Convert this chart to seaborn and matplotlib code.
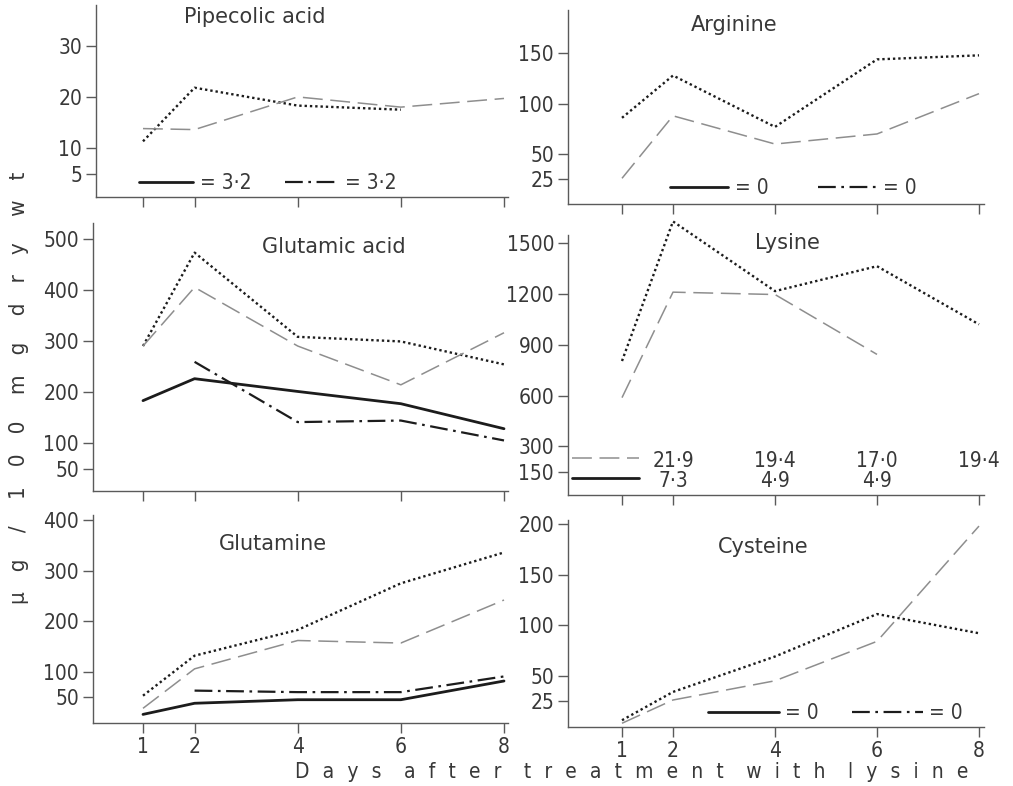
import numpy as np
import pandas as pd
import matplotlib
matplotlib.use('Agg')
import matplotlib.pyplot as plt
import matplotlib.transforms as mtransforms
from matplotlib.lines import Line2D
import seaborn as sns

nan = np.nan
days = [1, 2, 4, 6, 8]

# values (ug / 100 mg dry wt)
pipecolic_dotted = [11.3, 21.8, 18.3, 17.5, nan]
pipecolic_dashed = [13.8, 13.6, 20.0, 18.0, 19.7]

arginine_dotted = [86, 128, 77, 144, 148]
arginine_dashed = [26, 88, 60, 70, 110]

glutamic_dotted = [290, 473, 308, 299, 254]
glutamic_dashed = [290, 405, 290, 214, 316]
glutamic_solid = [183, 226, 201, 177, 128]
glutamic_dashdot = [nan, 259, 141, 144, 105]

lysine_dotted = [804, 1627, 1216, 1363, 1020]
lysine_dashed = [588, 1210, 1196, 843, nan]

glutamine_dotted = [53, 132, 183, 275, 336]
glutamine_dashed = [28, 106, 162, 157, 242]
glutamine_solid = [16, 38, 45, 45, 82]
glutamine_dashdot = [nan, 63, 60, 60, 91]

cysteine_dotted = [6, 34, 69, 111, 92]
cysteine_dashed = [3, 26, 45, 84, 198]

pipecolic_ticks = [5, 10, 20, 30]
arginine_ticks = [25, 50, 100, 150]
glutamic_ticks = [50, 100, 200, 300, 400, 500]
lysine_ticks = [150, 300, 600, 900, 1200, 1500]
glutamine_ticks = [50, 100, 200, 300, 400]
cysteine_ticks = [25, 50, 100, 150, 200]

# values printed in the Lysine panel (dashed row / solid row)
lysine_key_days = [2, 4, 6, 8]
lysine_key_dashed = ['21·9', '19·4', '17·0', '19·4']
lysine_key_solid = ['7·3', '4·9', '4·9']

W, H = 1013, 786
INK = '#1c1c1c'
GREY = '#8e8e8e'
AXC = '#5a5a5a'
TXT = '#383838'

palette = {'dotted': INK, 'dashed': GREY, 'solid': INK, 'dashdot': INK}
dashes = {'dotted': (1, 1.25), 'dashed': (13, 5), 'solid': '', 'dashdot': (8, 2.5, 1.2, 2.5)}
sizes = {'dotted': 1.7, 'dashed': 1.1, 'solid': 2.0, 'dashdot': 1.6}

sns.set_style('ticks')
plt.rcParams['font.family'] = ['DejaVu Sans']
plt.rcParams['font.stretch'] = 'condensed'

fig = plt.figure(figsize=(W / 100, H / 100), dpi=100)


def add_panel(box, d1, d8, ylim, yticks, series, xlabels):
    # box in pixels: left, top, right, bottom
    l, t, r, b = box
    ax = fig.add_axes([l / W, 1 - b / H, (r - l) / W, (b - t) / H])
    ppd = (d8 - d1) / 7
    ax.set_xlim(1 - (d1 - l) / ppd, 8 + (r - d8) / ppd)
    ax.set_ylim(*ylim)
    rows = []
    for name, vals in series.items():
        for d, v in zip(days, vals):
            rows.append({'day': d, 'value': v, 'series': name})
    df = pd.DataFrame(rows).dropna()
    sns.lineplot(data=df, x='day', y='value', hue='series', style='series', size='series',
                 palette=palette, dashes=dashes, sizes=sizes, legend=False, ax=ax,
                 clip_on=False, zorder=3)
    sns.despine(ax=ax)
    for s in ['left', 'bottom']:
        ax.spines[s].set_color(AXC)
        ax.spines[s].set_linewidth(1.0)
    ax.set_xticks(days)
    ax.set_yticks(yticks)
    ax.set_xticklabels([str(d) for d in days] if xlabels else [])
    ax.tick_params(direction='out', length=7, width=1, color=AXC, labelcolor=TXT,
                   labelsize=15, pad=3)
    ax.set_xlabel('')
    ax.set_ylabel('')
    return ax


def key_legend(ax, handles, labels, x, y, hl, cs):
    ax.legend(handles=handles, labels=labels, ncol=len(handles), frameon=False,
              loc='center left', bbox_to_anchor=(x, y), borderaxespad=0, borderpad=0,
              handlelength=hl, handletextpad=0.3, columnspacing=cs, fontsize=15,
              labelcolor=TXT)


def h(name):
    return Line2D([], [], color=palette[name], lw=sizes[name],
                  dashes=dashes[name] if dashes[name] else (None, None))


ax1 = add_panel((96, 5, 508, 197), 143, 504, (0.4, 38), pipecolic_ticks,
                {'dotted': pipecolic_dotted, 'dashed': pipecolic_dashed}, False)
ax2 = add_panel((568, 10, 984, 204), 622, 979, (0.5, 193), arginine_ticks,
                {'dotted': arginine_dotted, 'dashed': arginine_dashed}, False)
ax3 = add_panel((93, 223, 508, 491), 143, 504, (6, 531), glutamic_ticks,
                {'dotted': glutamic_dotted, 'dashed': glutamic_dashed,
                 'solid': glutamic_solid, 'dashdot': glutamic_dashdot}, False)
ax4 = add_panel((568, 235, 984, 495), 622, 979, (14, 1547), lysine_ticks,
                {'dotted': lysine_dotted, 'dashed': lysine_dashed}, False)
ax5 = add_panel((93, 515, 508, 723), 143, 504, (-1, 410), glutamine_ticks,
                {'dotted': glutamine_dotted, 'dashed': glutamine_dashed,
                 'solid': glutamine_solid, 'dashdot': glutamine_dashdot}, True)
ax6 = add_panel((568, 520, 984, 727), 622, 979, (-0.7, 204), cysteine_ticks,
                {'dotted': cysteine_dotted, 'dashed': cysteine_dashed}, True)

key_legend(ax1, [h('solid'), h('dashdot')], ['= 3·2', '= 3·2'], 0.105, 0.073, 2.6, 1.6)
key_legend(ax2, [h('solid'), h('dashdot')], ['= 0', '= 0'], 0.245, 0.082, 2.8, 2.4)
key_legend(ax6, [h('solid'), h('dashdot')], ['= 0', '= 0'], 0.336, 0.068, 3.4, 1.6)

lg = ax4.legend(handles=[h('dashed'), h('solid')], labels=['', ''], frameon=False,
                loc='center left', bbox_to_anchor=(0.01, 0.098), borderaxespad=0,
                borderpad=0, handlelength=3.2, labelspacing=0.0, fontsize=15)
tr = mtransforms.blended_transform_factory(ax4.transData, ax4.transAxes)
for d, s in zip(lysine_key_days, lysine_key_dashed):
    ax4.text(d, 0.131, s, transform=tr, ha='center', va='center', fontsize=15, color=TXT)
for d, s in zip(lysine_key_days, lysine_key_solid):
    ax4.text(d, 0.054, s, transform=tr, ha='center', va='center', fontsize=15, color=TXT)


def ftext(x, y, s, **kw):
    fig.text(x / W, 1 - y / H, s, ha='center', va='center', color=TXT, **kw)


def spaced(words, gap, wgap):
    # wide letter spacing as in the original typeset labels
    return wgap.join(gap.join(w) for w in words.split())


ftext(255, 17, 'Pipecolic acid', fontsize=15, stretch='normal')
ftext(734, 25, 'Arginine', fontsize=15, stretch='normal')
ftext(334, 247, 'Glutamic acid', fontsize=15, stretch='normal')
ftext(787, 243, 'Lysine', fontsize=15, stretch='normal')
ftext(273, 544, 'Glutamine', fontsize=15, stretch='normal')
ftext(763, 547, 'Cysteine', fontsize=15, stretch='normal')

ftext(632, 772, spaced('Days after treatment with lysine', '\u2002\u2009', '\u2002\u2002\u2009'),
      fontsize=15)
ftext(19, 388, spaced('μg / 100 mg dry wt', '\u2002\u2002', '\u2002\u2002 '),
      fontsize=16, rotation=90)

fig.savefig('out.png', dpi=100, facecolor='white')
